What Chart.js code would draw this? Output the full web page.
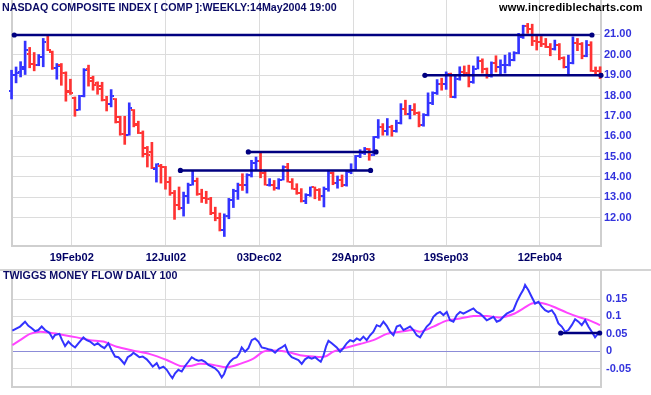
<!DOCTYPE html>
<html><head><meta charset="utf-8">
<script src="https://cdn.jsdelivr.net/npm/chart.js@4/dist/chart.umd.min.js"></script>
<style>
html,body{margin:0;padding:0;background:#fff;}
#wrap{position:relative;width:651px;height:395px;overflow:hidden;background:#fff;}
canvas{position:absolute;left:0;}
.t{position:absolute;font-family:"Liberation Sans",Arial,sans-serif;font-weight:bold;white-space:nowrap;line-height:12px;}
</style></head><body>
<div id="wrap">
<canvas id="top" width="651" height="268" style="top:0"></canvas>
<div style="position:absolute;left:0;top:269px;width:651px;height:2px;background:#d4d4d4"></div>
<canvas id="bot" width="651" height="127" style="top:268px"></canvas>
<div class="t" style="left:2px;top:1px;font-size:10.7px;color:#0b0b66">NASDAQ COMPOSITE INDEX [ COMP ]:WEEKLY:14May2004 19:00</div>
<div class="t" style="left:499px;top:1px;font-size:11px;letter-spacing:0.2px;color:#000">www.incrediblecharts.com</div>
<div class="t" style="left:3px;top:269px;font-size:10.7px;color:#0b0b66">TWIGGS MONEY FLOW DAILY 100</div>
</div>
<script>
// ---- weekly OHLC (index / 100), week 0 = 16 Nov 2001 ----
const opens = [18.24,19.00,19.16,19.32,20.06,19.57,19.52,19.87,20.96,20.14,19.36,19.49,19.08,18.18,17.90,17.31,17.96,19.32,18.88,18.59,18.34,17.77,17.60,17.82,16.95,16.10,16.08,17.28,16.62,16.16,15.15,15.23,14.41,14.55,14.48,13.74,13.19,12.62,12.48,13.07,13.61,13.81,13.15,12.95,12.91,12.21,11.99,11.40,12.10,12.88,13.31,13.61,13.59,14.11,14.69,14.79,14.22,13.62,13.63,13.48,13.87,14.48,13.76,13.42,13.21,12.82,13.10,13.49,13.38,13.05,13.40,14.22,13.70,13.84,13.59,14.26,14.35,15.03,15.20,15.39,15.10,15.96,16.46,16.26,16.45,16.25,16.63,17.34,17.09,17.31,17.14,16.53,17.02,17.64,18.10,18.58,18.55,19.06,17.92,18.81,19.15,19.12,18.66,19.32,19.71,19.30,18.94,19.60,19.38,19.49,19.51,19.73,20.07,20.87,21.40,21.24,20.66,20.64,20.54,20.38,20.30,20.48,19.85,19.40,19.60,20.57,20.53,19.96,20.50,19.20,19.18];
const highs = [19.24,19.40,19.66,20.67,20.36,20.11,20.01,20.80,21.00,20.18,19.57,19.57,19.16,18.80,17.93,18.01,19.32,19.49,18.95,18.67,18.65,17.96,18.29,17.85,16.98,16.98,17.64,17.31,16.74,16.26,15.50,15.70,14.65,14.62,14.52,14.00,13.34,13.51,13.26,13.70,14.30,13.95,13.40,13.30,13.00,12.52,12.23,12.19,12.95,13.40,13.70,14.16,14.16,14.82,14.98,15.23,14.33,13.92,13.83,13.92,14.55,14.67,13.92,13.67,13.43,13.18,13.51,13.51,13.43,13.51,14.33,14.25,14.05,14.10,14.30,14.65,15.06,15.34,15.45,15.40,15.99,16.82,16.62,16.87,16.54,16.79,17.60,17.77,17.52,17.60,17.20,17.11,18.13,18.18,18.78,18.85,19.16,19.10,19.03,19.41,19.45,19.49,19.45,19.90,19.80,19.35,19.65,19.95,19.75,19.98,20.10,20.15,21.05,21.45,21.54,21.50,20.97,20.90,20.80,20.55,20.72,20.55,19.90,19.98,20.88,20.80,20.60,20.70,20.64,19.40,19.41];
const lows = [17.83,18.62,18.91,19.03,19.36,19.21,19.46,19.41,20.20,19.28,18.80,18.50,17.72,18.05,16.98,17.28,17.93,18.46,18.26,18.06,17.73,17.24,17.44,16.65,16.05,15.60,16.05,16.46,16.13,14.98,14.49,14.41,13.75,13.70,13.40,13.10,11.92,12.39,12.08,12.70,13.60,13.10,12.75,12.70,12.15,11.85,11.35,11.08,11.95,12.50,12.90,13.34,13.21,14.00,14.33,13.96,13.60,13.55,13.35,13.40,13.85,13.75,13.40,13.15,12.77,12.69,13.05,12.93,12.85,12.53,13.30,13.62,13.45,13.52,13.55,14.16,14.33,14.95,15.10,14.82,15.05,15.90,16.05,16.05,16.00,16.20,16.60,17.05,16.85,17.05,16.46,16.49,17.00,17.55,18.05,18.26,18.30,17.90,17.88,18.75,18.95,18.42,18.60,19.30,19.10,18.85,18.90,19.15,18.98,19.10,19.45,19.70,20.05,20.80,21.05,20.45,20.23,20.40,20.35,19.95,20.23,19.75,19.35,18.97,19.55,20.20,19.80,19.90,19.18,19.05,18.83];
const closes = [19.00,19.10,19.41,20.23,19.57,19.52,19.90,20.64,20.23,19.33,19.44,19.11,18.21,18.10,17.28,17.96,19.27,18.72,18.50,18.45,17.77,17.60,17.96,16.70,16.13,16.05,17.41,16.55,16.16,15.42,15.06,14.44,14.63,14.48,13.74,13.19,12.62,12.48,13.07,13.61,13.81,13.15,12.95,12.91,12.21,11.99,11.40,12.10,12.88,13.31,13.61,13.59,14.11,14.69,14.79,14.22,13.62,13.63,13.48,13.87,14.48,13.76,13.42,13.21,12.82,13.10,13.49,13.38,13.05,13.40,14.22,13.70,13.84,13.59,14.26,14.35,15.03,15.20,15.39,15.10,15.96,16.46,16.26,16.45,16.25,16.63,17.34,17.09,17.31,17.14,16.53,17.02,17.64,18.10,18.58,18.55,19.06,17.92,18.81,19.15,19.12,18.66,19.32,19.71,19.30,18.94,19.60,19.38,19.49,19.51,19.73,20.07,20.87,21.40,21.24,20.66,20.64,20.54,20.38,20.30,20.48,19.85,19.40,19.60,20.57,20.53,19.96,20.50,19.20,19.18,19.04];

// ---- axes ----
const xTickWeeks = [13.3, 34.1, 54.7, 75.5, 96.0, 116.7];
const xTickLabels = ['19Feb02','12Jul02','03Dec02','29Apr03','19Sep03','12Feb04'];
const priceTicks = [12,13,14,15,16,17,18,19,20,21];
const mfTicks = [-0.05,0,0.05,0.1,0.15];
const mfTickLabels = ['-0.05','0','0.05','0.1','0.15'];

// ---- drawn trend levels ----
const levelStart = [0.6, 91.3, 52.3, 37.3];
const levelEnd   = [128.2, 130.2, 80.5, 79.3];
const levelValue = [20.97, 18.99, 15.23, 14.32];
const mfLevelStart = [121.3];
const mfLevelEnd = [129.9];
const mfLevelValue = [0.0525];

// ---- Twiggs money flow (daily, sampled) ----
const mfWeeks = [0.18,1.14,1.88,2.98,3.72,4.46,5.19,5.93,6.66,7.40,8.36,9.09,9.61,10.57,11.08,11.82,12.55,13.29,14.03,14.76,15.87,16.60,17.34,18.30,19.03,19.77,20.51,21.39,22.13,22.86,23.60,24.19,24.92,25.66,26.40,26.91,27.65,28.24,28.97,29.86,30.59,31.18,32.07,32.66,33.54,34.28,35.01,35.53,36.12,36.85,37.59,38.33,39.06,39.80,40.53,41.27,42.01,42.74,43.48,44.22,44.95,45.69,46.43,46.94,47.53,48.27,49.00,49.74,50.33,50.84,51.58,52.32,53.05,53.79,54.52,55.26,56.00,56.73,57.47,58.21,58.94,59.68,60.42,61.15,61.89,62.62,63.36,64.10,64.83,65.57,66.30,67.04,67.78,68.30,68.88,69.50,70.00,70.73,71.83,72.57,73.30,74.04,74.77,75.51,76.25,76.98,77.72,78.45,79.19,79.93,80.66,81.40,82.14,82.87,83.61,84.35,85.08,85.82,86.56,87.29,88.03,88.76,89.50,90.24,90.97,91.71,92.45,93.18,93.92,94.65,95.39,96.13,96.86,97.60,98.33,99.07,99.81,100.54,101.28,102.02,102.75,103.49,104.23,104.96,105.70,106.44,107.17,107.91,108.64,109.38,110.12,110.85,111.59,112.33,113.06,113.43,114.17,114.90,115.64,116.38,117.11,117.85,118.58,119.32,120.06,120.79,121.53,122.27,123.00,123.74,124.48,125.21,125.95,126.69,127.42,128.16,128.89,129.63,130.14];
const mfValues = [0.059,0.066,0.071,0.085,0.073,0.066,0.058,0.061,0.071,0.061,0.053,0.037,0.047,0.050,0.034,0.015,0.028,0.018,0.011,0.023,0.040,0.032,0.028,0.018,0.023,0.015,0.009,0.023,0.002,-0.015,-0.017,-0.025,-0.036,-0.017,-0.011,-0.004,-0.011,-0.017,-0.015,-0.023,-0.034,-0.044,-0.034,-0.049,-0.044,-0.053,-0.068,-0.077,-0.063,-0.053,-0.058,-0.042,-0.030,-0.017,-0.023,-0.027,-0.025,-0.030,-0.039,-0.044,-0.049,-0.058,-0.075,-0.065,-0.044,-0.030,-0.021,-0.017,-0.006,0.011,-0.001,0.009,0.032,0.037,0.028,0.011,0.009,0.006,0.004,-0.004,0.006,0.011,0.018,-0.006,-0.017,-0.021,-0.025,-0.036,-0.023,-0.017,-0.021,-0.017,-0.025,-0.030,-0.013,0.015,0.030,0.023,0.011,-0.001,0.009,0.023,0.032,0.028,0.037,0.032,0.042,0.032,0.046,0.056,0.075,0.071,0.085,0.073,0.056,0.046,0.071,0.075,0.061,0.066,0.071,0.061,0.046,0.040,0.056,0.071,0.080,0.099,0.108,0.113,0.104,0.113,0.089,0.085,0.104,0.113,0.108,0.113,0.118,0.123,0.113,0.108,0.099,0.089,0.094,0.099,0.085,0.089,0.099,0.108,0.113,0.118,0.142,0.161,0.177,0.190,0.175,0.156,0.137,0.142,0.128,0.118,0.113,0.118,0.104,0.080,0.071,0.056,0.061,0.075,0.092,0.085,0.075,0.089,0.071,0.056,0.040,0.052,0.056];
const maWeeks = [0.18,1.88,4.09,6.30,8.50,11.45,14.40,17.34,20.29,23.23,26.91,30.59,34.28,37.22,39.43,41.64,44.59,47.53,50.48,53.42,55.63,57.84,60.78,63.73,66.67,69.25,71.10,74.04,76.98,79.93,82.87,85.82,88.76,90.24,93.18,96.13,99.07,102.02,104.96,107.91,110.85,113.06,114.90,116.75,119.69,122.64,125.58,127.79,130.0];
const maValues = [0.018,0.032,0.050,0.056,0.053,0.047,0.040,0.032,0.028,0.013,0.002,-0.008,-0.025,-0.042,-0.042,-0.036,-0.039,-0.046,-0.036,-0.021,-0.001,0.002,-0.001,-0.011,-0.015,-0.015,-0.001,0.011,0.021,0.032,0.050,0.056,0.061,0.056,0.071,0.088,0.094,0.101,0.101,0.097,0.107,0.123,0.137,0.139,0.128,0.111,0.097,0.088,0.075];

// ---- styles ----
const UP = '#3333ff', DN = '#ff3333', NAVY = '#000080';
const GRID = '#dcdcdc', EDGE = '#cfcfcf';
const FONT = {family:'"Liberation Sans", Arial, sans-serif', size:11, weight:'bold'};
const X_MIN = 0.1, X_MAX = 130.2;

const barColors = closes.map((c,i)=> (i===0 || c>=closes[i-1]) ? UP : DN);
function tickImg(color, left){
  const c=document.createElement('canvas'); c.width=6; c.height=2;
  const g=c.getContext('2d'); g.fillStyle=color; g.fillRect(left?0:4,0,2,2); return c;
}
const imgs = {UP:{L:tickImg(UP,true),R:tickImg(UP,false)}, DN:{L:tickImg(DN,true),R:tickImg(DN,false)}};
const tickStyle = side => ctx => {
  const i = ctx.dataIndex; const col = (i!==undefined && barColors[i]===DN) ? 'DN':'UP';
  return imgs[col][side];
};
const idx = closes.map((_,i)=>i);

function noPad(s){ s.paddingTop=0; s.paddingBottom=0; s.paddingLeft=0; s.paddingRight=0; }
function xScale(showLabels, height){
  return {type:'linear', position:'bottom', min:X_MIN, max:X_MAX, offset:false,
    afterBuildTicks: s=>{ s.ticks = xTickWeeks.map(v=>({value:v})); },
    afterFit: s=>{ s.height = height; noPad(s); },
    ticks:{display:showLabels, autoSkip:false, maxRotation:0, padding:5, color:'#000066', font:FONT,
      callback:(v,i)=>xTickLabels[i]},
    grid:{color:GRID, lineWidth:1, drawTicks:false, offset:false},
    border:{display:true, color:EDGE, width:2}};
}
function leftEdge(min,max){
  return {type:'linear', position:'left', min, max, ticks:{display:false},
    grid:{display:false, drawTicks:false}, border:{display:true, color:EDGE, width:2},
    afterFit: s=>{ s.width = 0; noPad(s); }};
}
function rightAxis(min, max, ticksArr, labelFn, pad, gridColor){
  return {type:'linear', position:'right', min, max, bounds:'data',
    afterBuildTicks: s=>{ s.ticks = ticksArr.map(v=>({value:v})); },
    afterFit: s=>{ s.width = 50; noPad(s); },
    ticks:{padding:pad, color:'#3333dd', font:FONT, callback:labelFn},
    grid:{color:gridColor, lineWidth:1, drawTicks:false},
    border:{display:true, color:EDGE, width:2}};
}

function levelSets(starts, ends, values, width, r){
  return values.map((v,k)=>({type:'line', data:[{x:starts[k],y:v},{x:ends[k],y:v}],
    borderColor:NAVY, borderWidth:width, pointRadius:r, pointBackgroundColor:NAVY,
    pointBorderWidth:0, clip:false, order:0}));
}

new Chart(document.getElementById('top'), {
  type:'scatter',
  data:{datasets:[
    {type:'bar', data: idx.map(i=>({x:i, y:[lows[i], highs[i]]})), backgroundColor: barColors,
      barThickness:2, grouped:false, clip:false, order:3},
    {type:'scatter', data: idx.map(i=>({x:i, y:opens[i]})), pointStyle: tickStyle('L'), pointRadius:3, clip:false, order:2},
    {type:'scatter', data: idx.map(i=>({x:i, y:closes[i]})), pointStyle: tickStyle('R'), pointRadius:3, clip:false, order:2},
    ...levelSets(levelStart, levelEnd, levelValue, 2.5, 2.6)
  ]},
  options:{
    responsive:false, animation:false, events:[],
    layout:{autoPadding:false, padding:{left:12, right:0, top:0, bottom:0}},
    plugins:{legend:{display:false}, tooltip:{enabled:false}},
    scales:{
      x: xScale(true, 22),
      y: rightAxis(10.613, 22.687, priceTicks, v=>Number(v).toFixed(2), 3, GRID),
      yl: leftEdge(10.613, 22.687)
    }
  }
});

new Chart(document.getElementById('bot'), {
  type:'scatter',
  data:{datasets:[
    {type:'line', data: maWeeks.map((w,i)=>({x:w, y:maValues[i]})), borderColor:'#ff44ff', borderWidth:2,
      pointRadius:0, tension:0.3, clip:false, order:2},
    {type:'line', data: mfWeeks.map((w,i)=>({x:w, y:mfValues[i]})), borderColor:UP, borderWidth:2,
      pointRadius:0, tension:0, clip:false, order:1},
    ...levelSets(mfLevelStart, mfLevelEnd, mfLevelValue, 2.5, 2.6)
  ]},
  options:{
    responsive:false, animation:false, events:[],
    layout:{autoPadding:false, padding:{left:12, right:0, top:3, bottom:0}},
    plugins:{legend:{display:false}, tooltip:{enabled:false}},
    scales:{
      x: xScale(false, 8),
      y: rightAxis(-0.1024, 0.2304, mfTicks, (v,i)=>mfTickLabels[i], 5,
        c => (c.tick && c.tick.value===0) ? '#8c8cd8' : GRID),
      yl: leftEdge(-0.1024, 0.2304)
    }
  }
});
</script>
</body></html>
